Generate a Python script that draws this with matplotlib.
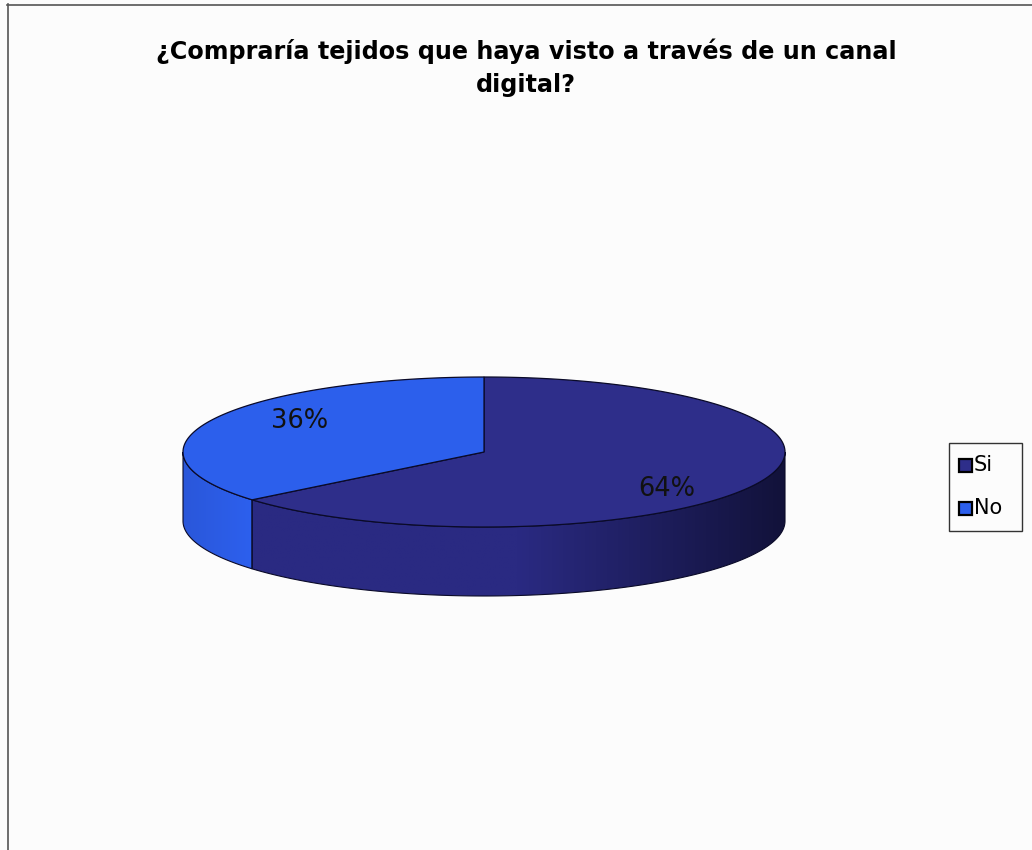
import numpy as np
import matplotlib
matplotlib.use("Agg")
import matplotlib.pyplot as plt
from matplotlib.patches import Polygon, Rectangle
from matplotlib.colors import LinearSegmentedColormap

# ---- data ----
categories = ["Si", "No"]
values = [64, 36]
labels = ["64%", "36%"]
title = "¿Compraría tejidos que haya visto a través de un canal\ndigital?"

top_colors = ["#2E2E8A", "#2C5FEC"]
side_start = ["#2A2A82", "#2A57DA"]
side_end = ["#12123A", "#2D60EE"]

W, H = 1032, 850
fig = plt.figure(figsize=(W / 100, H / 100), dpi=100)
fig.patch.set_facecolor("#FCFCFC")
ax = fig.add_axes([0, 0, 1, 1])
ax.set_xlim(0, W)
ax.set_ylim(H, 0)
ax.axis("off")

# frame lines (top and left)
ax.plot([7, W], [4.5, 4.5], color="#555555", lw=1.2)
ax.plot([7.5, 7.5], [4, H], color="#555555", lw=1.2)

cx, cy, rx, ry, depth = 484, 452, 301, 75, 69

def pt(theta_deg, dy=0):
    t = np.radians(theta_deg)
    return cx + rx * np.cos(t), cy - ry * np.sin(t) + dy

# angles: start at 90 deg, clockwise
total = sum(values)
starts, ends = [], []
a = 90.0
for v in values:
    starts.append(a)
    a -= 360.0 * v / total
    ends.append(a)

# side walls (visible front half)
for i in range(len(values)):
    s, e = starts[i], ends[i]
    segs = []
    for off in (0, -360, 360):
        lo, hi = e + off, s + off
        vlo, vhi = max(lo, -180), min(hi, 0)
        if vhi > vlo:
            segs.append((vlo, vhi))
    for lo, hi in segs:
        th = np.linspace(hi, lo, 200)
        top = [pt(t) for t in th]
        bot = [pt(t, depth) for t in th[::-1]]
        poly = Polygon(top + bot, closed=True, facecolor="none", edgecolor="none")
        ax.add_patch(poly)
        x0 = pt(hi)[0]
        x1 = pt(lo)[0]
        xa, xb = min(x0, x1), max(x0, x1)
        cmap = LinearSegmentedColormap.from_list(
            "g", [side_start[i], side_start[i], side_end[i]] if i == 0 else [side_start[i], side_end[i]])
        grad = np.linspace(0, 1, 256).reshape(1, -1)
        im = ax.imshow(grad, cmap=cmap, extent=[xa, xb, cy + ry + depth + 2, cy - ry],
                       aspect="auto", zorder=2)
        im.set_clip_path(poly)
        outline = Polygon(top + bot, closed=True, facecolor="none",
                          edgecolor="#0A0A28", lw=0.8, zorder=3)
        ax.add_patch(outline)

# top wedges
for i in range(len(values)):
    th = np.linspace(starts[i], ends[i], 300)
    pts = [(cx, cy)] + [pt(t) for t in th]
    ax.add_patch(Polygon(pts, closed=True, facecolor=top_colors[i],
                         edgecolor="#0A0A28", lw=0.9, zorder=4))

# labels
ax.text(667, 489, labels[0], fontsize=18.5, color="#111111", ha="center", va="center", zorder=5)
ax.text(300, 421, labels[1], fontsize=18.5, color="#111111", ha="center", va="center", zorder=5)

# title
ax.text(526, 51, title.split("\n")[0], fontsize=17.2, fontweight="bold", ha="center",
        va="center", color="#000000")
ax.text(526, 85, title.split("\n")[1], fontsize=17.2, fontweight="bold", ha="center",
        va="center", color="#000000")

# legend
ax.add_patch(Rectangle((949, 443), 73, 88, facecolor="#FCFCFC", edgecolor="#333333", lw=1))
for i, (cat, yy) in enumerate(zip(categories, [465, 508])):
    ax.add_patch(Rectangle((959, yy - 6.5), 13, 13, facecolor=top_colors[i],
                           edgecolor="#000000", lw=1.6))
    ax.text(974, yy, cat, fontsize=15, va="center", ha="left", color="#000000")

fig.savefig("out.png", dpi=100, facecolor=fig.get_facecolor())
